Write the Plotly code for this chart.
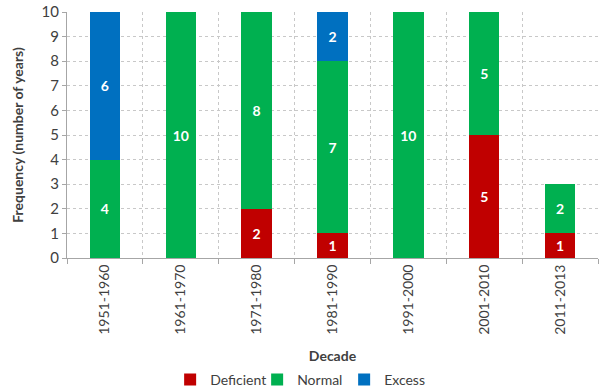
import plotly.graph_objects as go

decades = ["1951-1960", "1961-1970", "1971-1980", "1981-1990", "1991-2000", "2001-2010", "2011-2013"]
deficient = [0, 0, 2, 1, 0, 5, 1]
normal = [4, 10, 8, 7, 10, 5, 2]
excess = [6, 0, 0, 2, 0, 0, 0]

series = [
    ("Deficient", deficient, "#C00000"),
    ("Normal", normal, "#00B050"),
    ("Excess", excess, "#0070C0"),
]

fig = go.Figure()
for name, vals, color in series:
    fig.add_trace(go.Bar(
        name=name,
        x=decades,
        y=vals,
        marker=dict(color=color, line=dict(width=0)),
        text=[str(v) if v else "" for v in vals],
        textposition="inside",
        insidetextanchor="middle",
        textangle=0,
        textfont=dict(color="white", size=14, family="Lato", weight="bold"),
    ))

fig.update_layout(
    barmode="stack",
    bargap=0.6,
    width=601,
    height=390,
    margin=dict(l=67, r=3, t=12, b=132, autoexpand=False),
    paper_bgcolor="white",
    plot_bgcolor="white",
    font=dict(family="Lato", size=13, color="#404040"),
    showlegend=True,
    legend=dict(
        orientation="h",
        x=0.44, xanchor="center",
        y=-0.496, yanchor="middle",
        font=dict(size=14, color="#404040"),
        itemwidth=30,
        entrywidth=42,
        traceorder="normal",
    ),
    uniformtext=dict(mode="show", minsize=14),
)

fig.update_xaxes(
    tickangle=-90,
    tickson="boundaries",
    ticks="outside",
    ticklen=5,
    tickcolor="#A6A6A6",
    showgrid=True,
    gridcolor="#C8C8C8",
    griddash="dot",
    showline=True,
    linecolor="#A6A6A6",
    linewidth=1,
    tickfont=dict(size=14, color="#404040"),
    title=dict(text="<b>Decade</b>", font=dict(size=14, color="#404040"), standoff=17),
)

fig.update_yaxes(
    range=[0, 10],
    dtick=1,
    ticks="outside",
    ticklen=4,
    tickcolor="#A6A6A6",
    showgrid=True,
    gridcolor="#C8C8C8",
    griddash="dot",
    showline=True,
    linecolor="#A6A6A6",
    linewidth=1,
    zeroline=False,
    tickfont=dict(size=15, color="#404040"),
    title=dict(text="<b>Frequency (number of years)</b>", font=dict(size=14, color="#404040"), standoff=14),
)

fig.write_html("out.html")
